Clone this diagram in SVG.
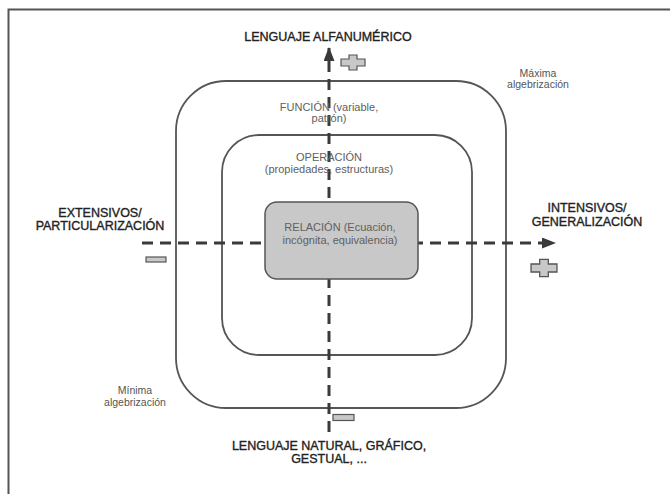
<svg xmlns="http://www.w3.org/2000/svg" width="670" height="494" viewBox="0 0 670 494">
<style>
text{font-family:"Liberation Sans",Arial,sans-serif}
.ax{font-size:12.5px;fill:#222;stroke:#222;stroke-width:0.35;text-anchor:middle}
.lb{font-size:11px;fill:#606060;text-anchor:middle}
.al{font-size:10.5px;fill:#555;text-anchor:middle}
.ring{fill:none;stroke:#555;stroke-width:1.8}
.box{fill:#c8c8c8;stroke:#555;stroke-width:1.5}
.sign{fill:#c8c8c8;stroke:#555;stroke-width:1.2}
.axis{stroke:#3a3a3a;stroke-width:3;stroke-dasharray:11 7;fill:none}
</style>
<defs>
<marker id="ah" markerWidth="14" markerHeight="11" refX="13" refY="5.5" orient="auto" markerUnits="userSpaceOnUse">
<path d="M0,0 L14,5.5 L0,11 Z" fill="#3a3a3a"/>
</marker>
<path id="plus" d="M-4,-7.5 H4 V-3.5 H12 V3.5 H4 V7.5 H-4 V3.5 H-12 V-3.5 H-4 Z"/>
</defs>
<rect width="670" height="494" fill="#fff"/>
<path d="M8.5,494 V9.5 H670" fill="none" stroke="#555" stroke-width="2"/>
<g id="outer"><rect class="ring" x="176" y="81" width="330" height="327" rx="50"/></g>
<g id="inner"><rect class="ring" x="222" y="135" width="250" height="220" rx="37"/></g>
<g id="connectors">
<line class="axis" x1="329" y1="432" x2="329" y2="48" marker-end="url(#ah)"/>
<line class="axis" x1="142" y1="243" x2="555" y2="243" marker-end="url(#ah)"/>
</g>
<g id="relacion">
<rect class="box" x="265" y="202" width="153" height="77" rx="12"/>
<text class="lb" x="340" y="231">RELACIÓN (Ecuación,</text>
<text class="lb" x="340" y="244">incógnita, equivalencia)</text>
</g>
<g id="funcion">
<text class="lb" x="329" y="111">FUNCIÓN (variable,</text>
<text class="lb" x="329" y="122">patrón)</text>
</g>
<g id="operacion">
<text class="lb" x="329" y="161">OPERACIÓN</text>
<text class="lb" x="329" y="173">(propiedades, estructuras)</text>
</g>
<g id="top-label"><text class="ax" x="328" y="41">LENGUAJE ALFANUMÉRICO</text></g>
<g id="bottom-label">
<text class="ax" x="329" y="450">LENGUAJE NATURAL, GRÁFICO,</text>
<text class="ax" x="329" y="463">GESTUAL, ...</text>
</g>
<g id="left-label">
<text class="ax" x="100" y="217">EXTENSIVOS/</text>
<text class="ax" x="100" y="230">PARTICULARIZACIÓN</text>
</g>
<g id="right-label">
<text class="ax" x="587" y="212">INTENSIVOS/</text>
<text class="ax" x="587" y="226">GENERALIZACIÓN</text>
</g>
<g id="maxima">
<text class="al" x="538" y="77">Máxima</text>
<text class="al" x="538" y="88">algebrización</text>
</g>
<g id="minima">
<text class="al" x="135" y="394">Mínima</text>
<text class="al" x="135" y="406">algebrización</text>
</g>
<g id="signs">
<use href="#plus" class="sign" x="353" y="62.5"/>
<use href="#plus" class="sign" transform="translate(544,268) scale(1.08,1.15)"/>
<rect class="sign" x="146" y="257" width="20" height="5"/>
<rect class="sign" x="333" y="414.5" width="21" height="6"/>
</g>
</svg>
